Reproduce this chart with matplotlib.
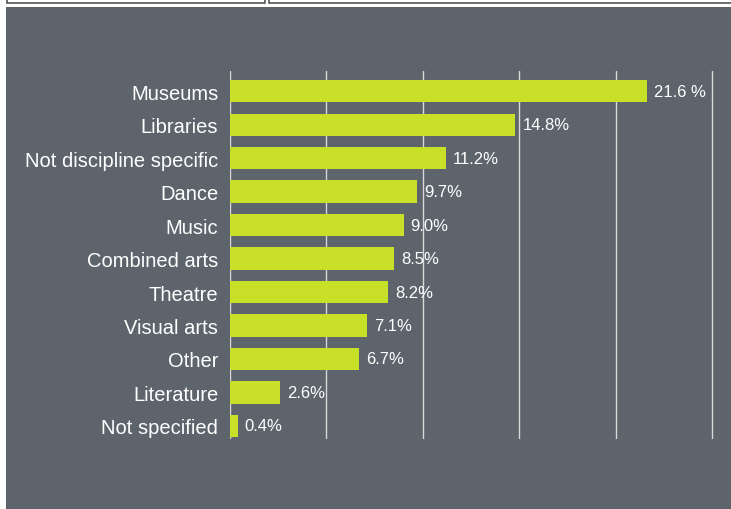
import matplotlib.pyplot as plt
from matplotlib.patches import Rectangle

categories = ["Museums", "Libraries", "Not discipline specific", "Dance", "Music",
              "Combined arts", "Theatre", "Visual arts", "Other", "Literature",
              "Not specified"]
values = [21.6, 14.8, 11.2, 9.7, 9.0, 8.5, 8.2, 7.1, 6.7, 2.6, 0.4]
value_labels = ["21.6 %", "14.8%", "11.2%", "9.7%", "9.0%", "8.5%", "8.2%",
                "7.1%", "6.7%", "2.6%", "0.4%"]
grid_ticks = [0, 5, 10, 15, 20, 25]

W, H = 731, 510
panel = "#5d646b"
bar_color = "#c8e028"

plt.rcParams['font.family'] = ['Liberation Sans', 'DejaVu Sans']

fig = plt.figure(figsize=(W / 100, H / 100), dpi=100)
fig.patch.set_facecolor("white")

# grey panel and the two cut-off boxes at the top
fig.add_artist(Rectangle((6 / W, 0), 1, 1 - 8 / H, transform=fig.transFigure,
                         facecolor=panel, edgecolor="none", zorder=0))
for x0, x1 in [(7, 265), (269, 740)]:
    fig.add_artist(Rectangle((x0 / W, 1 - 4 / H), (x1 - x0) / W, 10 / H,
                             transform=fig.transFigure, facecolor="white",
                             edgecolor="#555555", linewidth=1.2, zorder=1))

ax = fig.add_axes([230 / W, 1 - 440 / H, 486 / W, 368 / H])
ax.set_facecolor("none")
y = list(range(len(categories)))
ax.barh(y, values, height=0.66, color=bar_color, zorder=2)
for x in grid_ticks:
    ax.axvline(x, color="#d8d8d8", linewidth=1, zorder=1)

for yi, v, lab in zip(y, values, value_labels):
    ax.annotate(lab, (v, yi), xytext=(5, 0), textcoords="offset points",
                va="center", ha="left", color="white", fontsize=12, zorder=3)

ax.set_yticks(y)
ax.set_yticklabels(categories, color="white", fontsize=14.5)
ax.tick_params(axis="y", length=0, pad=8.5)
ax.set_xticks([])
ax.set_xlim(0, 25.2)
ax.set_ylim(10.39, -0.6)
for s in ax.spines.values():
    s.set_visible(False)

fig.savefig("out.png", dpi=100, facecolor=fig.get_facecolor())
